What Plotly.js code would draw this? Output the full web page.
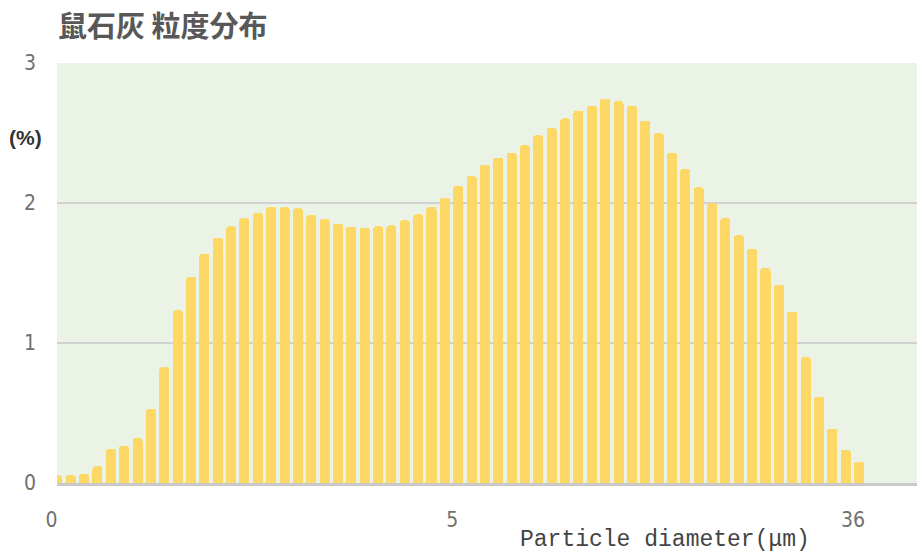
<!DOCTYPE html>
<html>
<head>
<meta charset="utf-8">
<script src="https://cdn.plot.ly/plotly-3.0.1.min.js"></script>
<style>html,body{margin:0;padding:0;background:#fff;}#chart{width:917px;height:552px;}</style>
</head>
<body>
<div id="chart"></div>
<script>
// Particle size bins (bin index along the x axis)
const binIndex = [0,1,2,3,4,5,6,7,8,9,10,11,12,13,14,15,16,17,18,19,20,
  21,22,23,24,25,26,27,28,29,30,31,32,33,34,35,36,37,38,39,40,
  41,42,43,44,45,46,47,48,49,50,51,52,53,54,55,56,57,58,59,60];

// Frequency (%) per bin
const percent = [0.054,0.055,0.064,0.119,0.243,0.266,0.321,0.528,0.828,1.233,
  1.471,1.638,1.752,1.833,1.893,1.929,1.971,1.971,1.962,1.912,
  1.886,1.850,1.831,1.824,1.833,1.840,1.876,1.919,1.974,2.036,
  2.121,2.193,2.271,2.324,2.359,2.412,2.483,2.536,2.604,2.659,
  2.695,2.745,2.729,2.695,2.588,2.500,2.359,2.243,2.111,1.997,
  1.893,1.769,1.671,1.538,1.416,1.224,0.900,0.616,0.388,0.238,0.150];

// x tick labels (diameter, µm) and where they sit on the bin axis
const xTickPositions = [0, 30, 60];
const xTickLabels = ['0', '5', '36'];

// y ticks
const yTickValues = [0, 1, 2, 3];
const yTickLabels = ['0', '1', '2', '3'];

const chartTitle = '鼠石灰 粒度分布';
const xAxisTitle = 'Particle diameter(μm)';
const yAxisTitle = '(%)';

const trace = {
  type: 'bar',
  x: binIndex,
  y: percent,
  width: 0.75,
  marker: { color: '#FDD865', line: { width: 0 }, cornerradius: 3 },
  hoverinfo: 'x+y'
};

const layout = {
  width: 917,
  height: 552,
  margin: { l: 57, r: 0, t: 63, b: 69 },
  paper_bgcolor: '#ffffff',
  plot_bgcolor: '#EBF3E6',
  showlegend: false,
  bargap: 0,
  title: {
    text: '<b>' + chartTitle + '</b>',
    xref: 'container', yref: 'container',
    x: 58 / 917, xanchor: 'left',
    y: 1 - 27 / 552, yanchor: 'middle',
    font: { family: '"Noto Sans CJK JP", "Noto Sans CJK SC", sans-serif', size: 29, color: '#585858' }
  },
  xaxis: {
    range: [-0.03, 64.34],
    tickmode: 'array',
    tickvals: xTickPositions,
    ticktext: xTickLabels,
    ticks: '',
    ticklabelshift: -6,
    ticklabelstandoff: 16,
    showgrid: false,
    zeroline: false,
    showline: true,
    linecolor: '#C9C9C9',
    linewidth: 3,
    tickfont: { family: '"Liberation Sans Narrow", "DejaVu Sans Condensed", "Liberation Sans", sans-serif', size: 21, color: '#707070' },
    fixedrange: true
  },
  yaxis: {
    range: [0, 3],
    tickmode: 'array',
    tickvals: yTickValues,
    ticktext: yTickLabels,
    ticks: '',
    ticklabelstandoff: 20,
    showgrid: true,
    gridcolor: '#D2D2D2',
    gridwidth: 2,
    zeroline: false,
    showline: false,
    tickfont: { family: '"Liberation Sans Narrow", "DejaVu Sans Condensed", "Liberation Sans", sans-serif', size: 21, color: '#707070' },
    fixedrange: true
  },
  annotations: [
    {
      text: xAxisTitle,
      xref: 'paper', yref: 'paper',
      x: (665 - 57) / 860, y: -(540 - 483) / 420,
      xanchor: 'center', yanchor: 'middle',
      showarrow: false,
      font: { family: '"Liberation Mono", "DejaVu Sans Mono", monospace', size: 23, color: '#444444' }
    },
    {
      text: '<b>' + yAxisTitle + '</b>',
      xref: 'paper', yref: 'paper',
      x: (26 - 57) / 860, y: (483 - 137) / 420,
      xanchor: 'center', yanchor: 'middle',
      showarrow: false,
      font: { family: '"Liberation Sans Narrow", "Liberation Sans", sans-serif', size: 21, color: '#333333' }
    }
  ]
};

Plotly.newPlot('chart', [trace], layout, { displayModeBar: false, staticPlot: true });
</script>
</body>
</html>
